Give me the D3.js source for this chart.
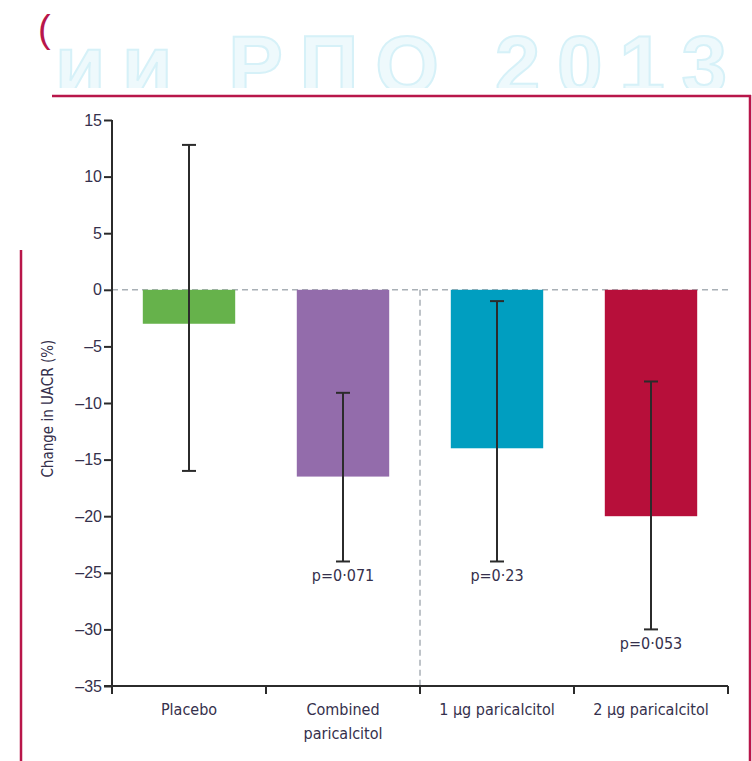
<!DOCTYPE html>
<html>
<head>
<meta charset="utf-8">
<script src="https://cdn.jsdelivr.net/npm/d3@7"></script>
<style>
  body { margin: 0; background: #fff; }
  svg { display: block; font-family: "Liberation Sans Narrow", "DejaVu Sans Condensed", "Open Sans", sans-serif; }
</style>
</head>
<body>
<svg id="chart" width="752" height="761"></svg>
<script>
// data
const groups = ["Placebo", "Combined paricalcitol", "1 µg paricalcitol", "2 µg paricalcitol"];
const groupLines = [["Placebo"], ["Combined", "paricalcitol"], ["1 µg paricalcitol"], ["2 µg paricalcitol"]];
const change = [-3, -16.5, -14, -20];
const ciLow = [-16, -24, -24, -30];
const ciHigh = [12.8, -9.1, -1, -8.1];
const pLabels = [null, "p=0·071", "p=0·23", "p=0·053"];
const colors = ["#66b24b", "#936cab", "#009ec0", "#b70f3a"];
const yTicks = [15, 10, 5, 0, -5, -10, -15, -20, -25, -30, -35];

const svg = d3.select("svg#chart");
const frameRed = "#b8164a";
const ink = "#2b2b2b";
const textInk = "#35304c";

// slide background bits: cropped watermark + frame
const defs = svg.append("defs");
defs.append("clipPath").attr("id", "wmClip")
    .append("rect").attr("x", 52).attr("y", 0).attr("width", 700).attr("height", 88);
svg.append("text")
    .attr("clip-path", "url(#wmClip)")
    .attr("x", 55).attr("y", 93)
    .attr("font-family", "Liberation Sans, Arial, sans-serif")
    .attr("font-weight", "bold")
    .attr("font-size", 82)
    .attr("fill", "#eef9fc")
    .attr("stroke", "#d6f1f8")
    .attr("stroke-width", 2)
    .attr("textLength", 672)
    .attr("lengthAdjust", "spacing")
    .text("ии РПО 2013");
svg.append("text")
    .attr("x", 38).attr("y", 42)
    .attr("font-family", "Liberation Sans, Arial, sans-serif")
    .attr("font-size", 38)
    .attr("fill", frameRed)
    .text("(");

svg.append("line").attr("x1", 52).attr("x2", 751).attr("y1", 96).attr("y2", 96)
    .attr("stroke", frameRed).attr("stroke-width", 2.5);
svg.append("line").attr("x1", 750).attr("x2", 750).attr("y1", 95).attr("y2", 761)
    .attr("stroke", frameRed).attr("stroke-width", 2.5);
svg.append("line").attr("x1", 21).attr("x2", 21).attr("y1", 250).attr("y2", 761)
    .attr("stroke", frameRed).attr("stroke-width", 2.5);

// scales
const x = d3.scaleBand().domain(groups).range([112, 728]).paddingInner(0.4).paddingOuter(0.2);
const y = d3.scaleLinear().domain([-35, 15]).range([686, 120]);
const step = x.step();
const x0 = x.range()[0];

// reference lines
svg.append("line")
    .attr("x1", x0).attr("x2", x.range()[1])
    .attr("y1", y(0)).attr("y2", y(0))
    .attr("stroke", "#a9b0b6").attr("stroke-width", 1.5)
    .attr("stroke-dasharray", "6,4");
svg.append("line")
    .attr("x1", x0 + 2 * step).attr("x2", x0 + 2 * step)
    .attr("y1", y(0)).attr("y2", y(-35))
    .attr("stroke", "#a9b0b6").attr("stroke-width", 1.5)
    .attr("stroke-dasharray", "6,4");

// bars
svg.append("g").selectAll("rect")
    .data(groups)
    .join("rect")
    .attr("x", d => x(d))
    .attr("width", x.bandwidth())
    .attr("y", y(0))
    .attr("height", (d, i) => y(change[i]) - y(0))
    .attr("fill", (d, i) => colors[i]);

// error bars
const eb = svg.append("g").attr("stroke", ink).attr("stroke-width", 2);
groups.forEach((g, i) => {
    const cx = x(g) + x.bandwidth() / 2;
    eb.append("line").attr("x1", cx).attr("x2", cx).attr("y1", y(ciHigh[i])).attr("y2", y(ciLow[i]));
    eb.append("line").attr("x1", cx - 7).attr("x2", cx + 7).attr("y1", y(ciHigh[i])).attr("y2", y(ciHigh[i]));
    eb.append("line").attr("x1", cx - 7).attr("x2", cx + 7).attr("y1", y(ciLow[i])).attr("y2", y(ciLow[i]));
    if (pLabels[i]) {
        svg.append("text")
            .attr("x", cx).attr("y", y(ciLow[i]) + 20)
            .attr("text-anchor", "middle")
            .attr("font-size", 16)
            .attr("fill", textInk)
            .text(pLabels[i]);
    }
});

// y axis
const yAxis = d3.axisLeft(y).tickValues(yTicks).tickSize(8).tickPadding(2)
    .tickFormat(d => d < 0 ? "\u2013" + Math.abs(d) : d);
const gy = svg.append("g").attr("transform", "translate(112,0)").call(yAxis);
gy.select(".domain").remove();
gy.selectAll(".tick line").attr("stroke", ink).attr("stroke-width", 2);
gy.selectAll(".tick text").attr("font-size", 16).attr("fill", textInk).attr("font-family", null);
svg.append("line").attr("x1", 112).attr("x2", 112).attr("y1", y(15)).attr("y2", y(-35) + 8)
    .attr("stroke", ink).attr("stroke-width", 2);

// x axis with ticks at band boundaries
svg.append("line").attr("x1", 104).attr("x2", x.range()[1]).attr("y1", y(-35)).attr("y2", y(-35))
    .attr("stroke", ink).attr("stroke-width", 2);
svg.append("g").selectAll("line")
    .data(d3.range(groups.length + 1))
    .join("line")
    .attr("x1", i => x0 + i * step).attr("x2", i => x0 + i * step)
    .attr("y1", y(-35)).attr("y2", y(-35) + 8)
    .attr("stroke", ink).attr("stroke-width", 2);

const gx = svg.append("g");
groups.forEach((g, i) => {
    const t = gx.append("text")
        .attr("x", x(g) + x.bandwidth() / 2)
        .attr("y", y(-35) + 29)
        .attr("text-anchor", "middle")
        .attr("font-size", 16)
        .attr("fill", textInk);
    groupLines[i].forEach((line, k) => {
        t.append("tspan").attr("x", x(g) + x.bandwidth() / 2).attr("dy", k === 0 ? 0 : 24).text(line);
    });
});

// y label
svg.append("text")
    .attr("transform", `translate(53,${y(-10.5)}) rotate(-90)`)
    .attr("text-anchor", "middle")
    .attr("font-size", 15)
    .attr("fill", textInk)
    .text("Change in UACR (%)");
</script>
</body>
</html>
